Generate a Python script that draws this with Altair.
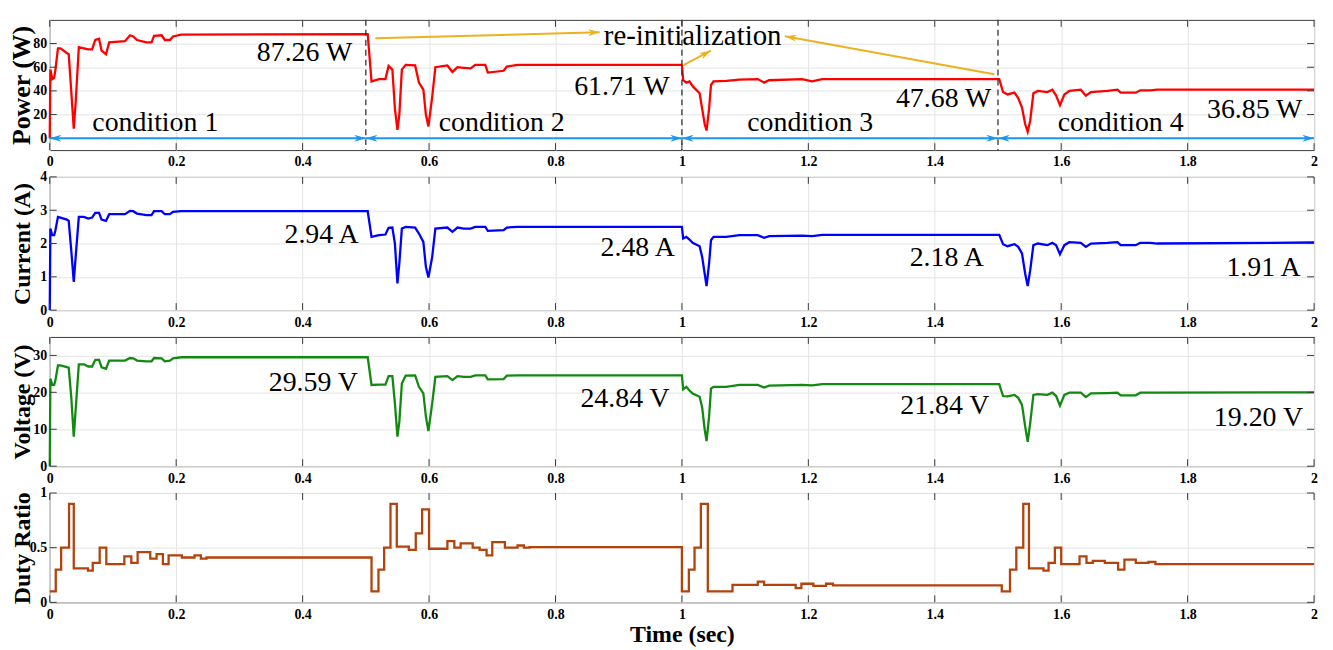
import math
import altair as alt
import pandas as pd

# ---------------- data ----------------
# time knots (s) shared by the power / current / voltage traces
t_pv = [0, 0.001, 0.004, 0.007, 0.009, 0.013, 0.017, 0.027, 0.030, 0.034, 0.038, 0.041, 0.046, 0.054,
        0.061, 0.067, 0.072, 0.078, 0.082, 0.089, 0.094, 0.119, 0.127, 0.132, 0.138, 0.153, 0.161, 0.165,
        0.177, 0.182, 0.190, 0.195, 0.208, 0.503,
        0.509, 0.521, 0.531, 0.536, 0.542, 0.546, 0.550, 0.553, 0.557, 0.563, 0.578, 0.584, 0.591, 0.595,
        0.599, 0.605, 0.610, 0.629, 0.637, 0.645, 0.655, 0.666, 0.673, 0.689, 0.693, 0.718, 0.723, 0.740, 1.000,
        1.002, 1.007, 1.012, 1.017, 1.028, 1.032, 1.036, 1.039, 1.043, 1.046, 1.050, 1.070, 1.091, 1.120,
        1.130, 1.138, 1.190, 1.206, 1.222, 1.502,
        1.508, 1.515, 1.526, 1.532, 1.538, 1.543, 1.547, 1.551, 1.556, 1.563, 1.578, 1.586, 1.592, 1.598,
        1.605, 1.613, 1.631, 1.639, 1.647, 1.673, 1.689, 1.694, 1.718, 1.725, 1.741, 1.752, 2.000]

power = [0, 58, 50, 51, 58, 76, 76, 72, 71, 40, 8, 30, 77, 76, 75, 75, 83, 84, 74, 71, 81, 82, 87, 86,
         83, 81, 81, 86.5, 87, 83, 83, 86, 87.5, 88,
         48, 50, 50, 61, 58, 25, 7, 20, 58, 62, 61.5, 47, 41, 20, 10, 35, 60, 61.5, 56, 60, 59.5, 59, 62,
         62, 55.5, 57, 60.5, 62, 62,
         49, 47, 48, 44, 38, 25, 12, 6.5, 25, 45, 48, 48.5, 49.5, 50, 47, 49, 50, 48, 50, 50,
         39, 37, 38.5, 34, 26, 12, 5.5, 15, 38, 40, 39, 41, 36, 28, 37, 40, 41, 36, 39, 40, 41, 38.5,
         38.5, 40.5, 40.5, 41, 41]

current = [0, 2.45, 2.25, 2.25, 2.4, 2.8, 2.78, 2.72, 2.68, 1.8, 0.85, 1.6, 2.8, 2.8, 2.75, 2.78, 2.92,
           2.92, 2.72, 2.68, 2.88, 2.88, 2.98, 2.97, 2.9, 2.85, 2.85, 2.97, 2.97, 2.88, 2.88, 2.95, 2.97, 2.97,
           2.2, 2.25, 2.27, 2.47, 2.48, 2.0, 0.8, 1.4, 2.45, 2.5, 2.48, 2.3, 2.05, 1.3, 0.98, 1.6, 2.45,
           2.48, 2.35, 2.48, 2.45, 2.45, 2.5, 2.5, 2.38, 2.4, 2.48, 2.5, 2.5,
           2.15, 2.2, 2.12, 2.02, 1.92, 1.6, 1.1, 0.72, 1.4, 2.1, 2.2, 2.2, 2.25, 2.25, 2.17, 2.22, 2.24,
           2.22, 2.26, 2.26,
           1.98, 1.92, 1.98, 1.9, 1.7, 1.1, 0.72, 1.2, 1.95, 2.0, 1.95, 2.02, 1.95, 1.68, 1.95, 2.04, 2.02,
           1.9, 2.0, 2.02, 2.04, 1.95, 1.95, 2.02, 2.02, 2.0, 2.03]

voltage = [0, 23.7, 22, 22, 23.3, 27.3, 27.3, 26.8, 26.7, 18.8, 8, 15.3, 27.6, 27.6, 27, 27, 28.8, 28.8,
           26.8, 26.4, 28.6, 28.6, 29.3, 29.2, 28.6, 28.4, 28.4, 29.3, 29.2, 28.4, 28.6, 29.2, 29.5, 29.5,
           22, 22.1, 22.1, 24.4, 24.4, 17, 8, 12, 22.4, 24.5, 24.6, 21.5, 19.7, 13.5, 9.5, 17, 24.2, 24.4,
           23.3, 24.4, 24.2, 24.2, 24.6, 24.6, 23.5, 23.6, 24.5, 24.6, 24.6,
           20.8, 21.5, 20.5, 19.7, 18.8, 16, 10, 6.8, 13.5, 21, 21.5, 21.5, 22, 22, 21.3, 21.8, 22, 21.9,
           22.2, 22.2,
           19.0, 18.9, 19.3, 18.5, 16.6, 10.8, 6.6, 11.7, 19.3, 19.5, 19.3, 19.9, 19.0, 16.4, 19.3, 19.9,
           19.9, 18.7, 19.7, 19.8, 19.9, 19.2, 19.2, 19.9, 19.9, 19.9, 20.0]

duty_t = [0, 0.0095, 0.018, 0.0305, 0.038, 0.0605, 0.068, 0.079, 0.0895, 0.118, 0.129, 0.139, 0.159,
          0.169, 0.179, 0.188, 0.209, 0.229, 0.239, 0.248,
          0.509, 0.52, 0.529, 0.539, 0.549, 0.568, 0.579, 0.589, 0.6, 0.629, 0.64, 0.65, 0.669, 0.68,
          0.691, 0.70, 0.72, 0.74, 0.75, 0.759,
          1.0, 1.011, 1.02, 1.03, 1.041, 1.08, 1.12, 1.13, 1.18, 1.189, 1.208, 1.228, 1.239,
          1.506, 1.519, 1.529, 1.54, 1.549, 1.572, 1.58, 1.59, 1.6, 1.629, 1.64, 1.65, 1.669, 1.69, 1.7,
          1.718, 1.738, 1.749, 2.0]
duty = [0.1, 0.3, 0.5, 0.9, 0.31, 0.29, 0.36, 0.5, 0.35, 0.42, 0.36, 0.46, 0.4, 0.44, 0.35, 0.43, 0.41,
        0.43, 0.4, 0.41,
        0.1, 0.3, 0.5, 0.9, 0.51, 0.48, 0.63, 0.85, 0.49, 0.56, 0.5, 0.54, 0.5, 0.48, 0.43, 0.55, 0.5,
        0.52, 0.5, 0.505,
        0.1, 0.3, 0.5, 0.9, 0.1, 0.16, 0.19, 0.16, 0.13, 0.17, 0.15, 0.17, 0.155,
        0.1, 0.3, 0.5, 0.9, 0.31, 0.29, 0.36, 0.5, 0.35, 0.42, 0.36, 0.38, 0.36, 0.3, 0.39, 0.36, 0.37,
        0.35, 0.35]

x_ticks = [0, 0.2, 0.4, 0.6, 0.8, 1.0, 1.2, 1.4, 1.6, 1.8, 2.0]
p_ticks = [0, 20, 40, 60, 80]
i_ticks = [0, 1, 2, 3, 4]
v_ticks = [0, 10, 20, 30]
d_ticks = [0, 0.5, 1]

# annotations
p_lbl = ["87.26 W", "61.71 W", "47.68 W", "36.85 W"]
p_lbl_t = [0.403, 0.905, 1.414, 1.906]
p_lbl_v = [72, 43, 33, 24]
cond_lbl = ["condition 1", "condition 2", "condition 3", "condition 4"]
cond_t = [0.167, 0.715, 1.203, 1.694]
cond_v = [13, 13, 13, 13]
switch_t = [0.5, 1.0, 1.5]
seg_start = [0, 0.5, 1.0, 1.5]
seg_end = [0.5, 1.0, 1.5, 2.0]
reinit_text = ["re-initialization"]
reinit_t = [1.017]
reinit_v = [86.6]
reinit_from_t = [0.515, 1.0016, 1.494]
reinit_from_v = [84.5, 61.5, 54.0]
reinit_to_t = [0.870, 1.046, 1.163]
reinit_to_v = [89.5, 74.0, 86.2]

i_lbl = ["2.94 A", "2.48 A", "2.18 A", "1.91 A"]
i_lbl_t = [0.43, 0.93, 1.419, 1.92]
i_lbl_v = [2.25, 1.87, 1.57, 1.27]
v_lbl = ["29.59 V", "24.84 V", "21.84 V", "19.20 V"]
v_lbl_t = [0.417, 0.91, 1.416, 1.912]
v_lbl_v = [22.6, 18.3, 16.2, 13.0]

# ---------------- styling ----------------
FONT = "Liberation Serif"
W = 1272
BOX = "#3a3a3a"
GRID = "#e4e4e4"
BLUE_ARROW = "#1e96f0"
ORANGE = "#EDB120"
HEAD = "M0,0 L0.55,1.8 L0,1.25 L-0.55,1.8 Z"
xs = alt.Scale(domain=[0, 2], nice=False, zero=False)
NUMFMT = ".1~f"


def x_axis(title=False):
    kw = dict(values=x_ticks, format=NUMFMT, grid=True, gridColor=GRID, gridWidth=1, ticks=False,
              domain=False, labelFont=FONT, labelFontWeight="bold", labelFontSize=14,
              labelColor="black", labelPadding=5, labelFlush=False)
    if title:
        kw.update(title="Time (sec)", titleFont=FONT, titleFontWeight="bold", titleFontSize=24,
                  titleColor="black", titlePadding=1)
    else:
        kw.update(title="")
    return alt.Axis(**kw)


def y_axis(title, ticks, h, fs=24):
    return alt.Axis(values=ticks, format=NUMFMT, grid=True, gridColor=GRID, gridWidth=1, ticks=False,
                    domain=False, labelFont=FONT, labelFontWeight="bold", labelFontSize=14,
                    labelColor="black", labelPadding=3, labelFlush=False,
                    title=title, titleFont=FONT, titleFontWeight="bold", titleFontSize=fs,
                    titleColor="black", titleAngle=270, titleX=-20, titleY=h / 2,
                    titleAlign="center", titleBaseline="alphabetic")


class Enc:
    def __init__(self, xaxis, yaxis, ys):
        self.xaxis, self.yaxis, self.ys = xaxis, yaxis, ys

    def X(self, f="t"):
        return alt.X(f"{f}:Q", scale=xs, axis=self.xaxis)

    def Y(self, f="v"):
        return alt.Y(f"{f}:Q", scale=self.ys, axis=self.yaxis)


def tick_layers(e, yticks, h):
    xt = pd.DataFrame({"t": x_ticks})
    yt = pd.DataFrame({"v": yticks})
    L = 7
    return [
        alt.Chart(xt).mark_rule(color=BOX, strokeWidth=1).encode(
            x=e.X(), y=alt.value(h), y2=alt.value(h - L)),
        alt.Chart(xt).mark_rule(color=BOX, strokeWidth=1).encode(
            x=e.X(), y=alt.value(0), y2=alt.value(L)),
        alt.Chart(yt).mark_rule(color=BOX, strokeWidth=1).encode(
            y=e.Y(), x=alt.value(0), x2=alt.value(L)),
        alt.Chart(yt).mark_rule(color=BOX, strokeWidth=1).encode(
            y=e.Y(), x=alt.value(W), x2=alt.value(W - L)),
    ]


def text_layer(e, labels, ts, vs, size=28):
    df = pd.DataFrame({"t": ts, "v": vs, "txt": labels})
    return alt.Chart(df).mark_text(font=FONT, fontSize=size, color="black", align="center",
                                   baseline="middle").encode(x=e.X(), y=e.Y(), text="txt:N")


def panel(t, vals, color, title, yticks, domain, h, annotations, interp="linear", xtitle=False,
          extra=None, fs=24):
    ys = alt.Scale(domain=domain, nice=False, zero=False)
    e = Enc(x_axis(xtitle), y_axis(title, yticks, h, fs), ys)
    df = pd.DataFrame({"t": t, "v": vals})
    line = alt.Chart(df).mark_line(color=color, strokeWidth=2.3, interpolate=interp).encode(
        x=e.X(), y=e.Y())
    layers = [line] + tick_layers(e, yticks, h)
    if extra:
        layers += extra(e, h)
    if annotations[0]:
        layers.append(text_layer(e, *annotations))
    return alt.layer(*layers).properties(width=W, height=h)


def power_extras(e, h):
    out = []
    # dashed switching lines
    out.append(alt.Chart(pd.DataFrame({"t": switch_t})).mark_rule(
        color="#333333", strokeWidth=1.3, strokeDash=[6, 4]).encode(
        x=e.X(), y=alt.value(0), y2=alt.value(h)))
    # blue double arrows along zero
    seg = pd.DataFrame({"t": seg_start, "t2": seg_end, "v": [0] * len(seg_start)})
    out.append(alt.Chart(seg).mark_rule(color=BLUE_ARROW, strokeWidth=2.2).encode(
        x=e.X(), x2="t2:Q", y=e.Y()))
    heads_t = seg_start + seg_end
    heads_a = [270] * len(seg_start) + [90] * len(seg_end)
    hd = pd.DataFrame({"t": heads_t, "v": [0] * len(heads_t), "ang": heads_a})
    out.append(alt.Chart(hd).mark_point(shape=HEAD, filled=True, size=170, color=BLUE_ARROW,
                                        opacity=1, strokeWidth=0).encode(
        x=e.X(), y=e.Y(), angle=alt.Angle("ang:Q", scale=None)))
    # orange re-initialization arrows
    pxt = W / 2.0
    pxv = h / (domain_p[1] - domain_p[0])
    angs = []
    for a, b, c, d in zip(reinit_from_t, reinit_from_v, reinit_to_t, reinit_to_v):
        angs.append(math.degrees(math.atan2((c - a) * pxt, (d - b) * pxv)) % 360)
    ar = pd.DataFrame({"t": reinit_from_t, "v": reinit_from_v, "t2": reinit_to_t, "v2": reinit_to_v,
                       "ang": angs})
    out.append(alt.Chart(ar).mark_rule(color=ORANGE, strokeWidth=2).encode(
        x=e.X(), x2="t2:Q", y=e.Y(), y2="v2:Q"))
    out.append(alt.Chart(ar).mark_point(shape=HEAD, filled=True, size=170, color=ORANGE,
                                        opacity=1, strokeWidth=0).encode(
        x=e.X("t2"), y=e.Y("v2"), angle=alt.Angle("ang:Q", scale=None)))
    out.append(text_layer(e, cond_lbl, cond_t, cond_v))
    out.append(text_layer(e, reinit_text, reinit_t, reinit_v, size=29))
    return out


domain_p = [-10, 100]
p1 = panel(t_pv, power, "#ff0000", "Power (W)", p_ticks, domain_p, 131,
           (p_lbl, p_lbl_t, p_lbl_v), extra=power_extras, fs=26)
p2 = panel(t_pv, current, "#0000ff", "Current (A)", i_ticks, [0, 4], 134,
           (i_lbl, i_lbl_t, i_lbl_v))
p3 = panel(t_pv, voltage, "#128a12", "Voltage (V)", v_ticks, [0, 35], 130,
           (v_lbl, v_lbl_t, v_lbl_v))
p4 = panel(duty_t, duty, "#b3420b", "Duty Ratio", d_ticks, [0, 1], 110,
           ([], [], []), interp="step-after", xtitle=True)

chart = alt.vconcat(p1, p2, p3, p4, spacing=27, bounds="flush").properties(
    padding={"left": 0, "top": 8, "right": 5, "bottom": 0},
    background="white",
).configure_view(stroke=BOX, strokeWidth=1)

chart.save("out.html", embed_options={"renderer": "svg", "actions": False})
